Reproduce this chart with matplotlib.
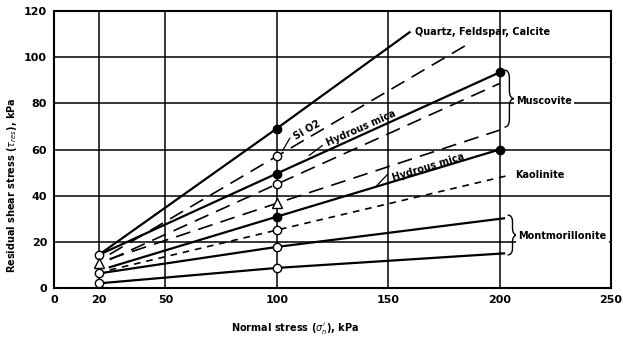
import matplotlib
matplotlib.use("Agg")
import matplotlib.pyplot as plt
from matplotlib.path import Path
from matplotlib.patches import PathPatch

# residual shear stress vs normal stress (kPa)
quartz_x = [20, 100, 159.6]
quartz_y = [14.3, 69.1, 110.8]
sio2_x = [25, 100, 185]
sio2_y = [14.6, 57.1, 105.2]
musc_solid_x = [20, 100, 200]
musc_solid_y = [14.3, 49.6, 93.4]
musc_dash1_x = [25, 100, 200]
musc_dash1_y = [12.3, 45.0, 88.6]
musc_dash2_x = [25, 100, 200]
musc_dash2_y = [12.6, 36.7, 68.4]
hmica_x = [25, 100, 200]
hmica_y = [9.0, 30.9, 60.0]
kaol_x = [25, 100, 205]
kaol_y = [7.8, 25.1, 49.0]
mont1_x = [20, 100, 202]
mont1_y = [6.3, 17.8, 30.2]
mont2_x = [20, 100, 202]
mont2_y = [2.0, 8.7, 15.0]

# test points
open_x = [20, 20, 20, 100, 100, 100, 100, 100]
open_y = [14.3, 6.3, 2.0, 57.1, 45.0, 25.1, 17.8, 8.7]
filled_x = [100, 100, 100, 200, 200]
filled_y = [69.1, 49.6, 30.9, 93.4, 60.0]
tri_x = [20, 100]
tri_y = [10.7, 36.7]

xticks = [0, 20, 50, 100, 150, 200, 250]
yticks = [0, 20, 40, 60, 80, 100, 120]

FONT = dict(fontsize=7, fontweight="bold", color="black")


def brace(ax, x, y0, y1, w, d):
    """right-pointing curly brace between y0 and y1"""
    ym = (y0 + y1) / 2.0
    xm = x + w / 2.0
    verts = [(x, y1), (xm, y1), (xm, y1 - d),
             (xm, ym + d),
             (xm, ym), (x + w, ym),
             (xm, ym), (xm, ym - d),
             (xm, y0 + d),
             (xm, y0), (x, y0)]
    codes = [Path.MOVETO, Path.CURVE3, Path.CURVE3,
             Path.LINETO,
             Path.CURVE3, Path.CURVE3,
             Path.CURVE3, Path.CURVE3,
             Path.LINETO,
             Path.CURVE3, Path.CURVE3]
    ax.add_patch(PathPatch(Path(verts, codes), fill=False, lw=1.0,
                           edgecolor="black", zorder=6))


fig = plt.figure(figsize=(6.23, 3.41), dpi=100)
ax = fig.add_axes([0.0867, 0.1554, 0.894, 0.8123])
ax.set_xlim(0, 250)
ax.set_ylim(0, 120)

for s in ax.spines.values():
    s.set_linewidth(1.5)

ax.set_xticks(xticks)
ax.set_yticks(yticks)
ax.set_xticklabels([str(v) for v in xticks], fontsize=8, fontweight="bold")
ax.set_yticklabels([str(v) for v in yticks], fontsize=8, fontweight="bold")
ax.tick_params(length=0, pad=5)
ax.grid(True, color="black", lw=1.1)
ax.set_axisbelow(True)

solid = dict(color="black", lw=1.6, zorder=3)
ldash = dict(color="black", lw=1.2, ls=(0, (9, 5)), zorder=3)
sdash = dict(color="black", lw=1.2, ls=(0, (4, 3.5)), zorder=3)

ax.plot(quartz_x, quartz_y, **solid)
ax.plot(sio2_x, sio2_y, **ldash)
ax.plot(musc_solid_x, musc_solid_y, **solid)
ax.plot(musc_dash1_x, musc_dash1_y, **ldash)
ax.plot(musc_dash2_x, musc_dash2_y, **ldash)
ax.plot(hmica_x, hmica_y, **solid)
ax.plot(kaol_x, kaol_y, **sdash)
ax.plot(mont1_x, mont1_y, **solid)
ax.plot(mont2_x, mont2_y, **solid)

ax.plot(open_x, open_y, "o", ms=6, mfc="white", mec="black", mew=1.0, zorder=5)
ax.plot(filled_x, filled_y, "o", ms=6, mfc="black", mec="black", zorder=5)
ax.plot(tri_x, tri_y, "^", ms=6.5, mfc="white", mec="black", mew=1.0, zorder=5)

# labels
ax.text(162, 110.8, "Quartz, Feldspar, Calcite", ha="left", va="center", **FONT)
ax.text(113.5, 68.5, "Si O2", ha="center", va="center", rotation=30,
        rotation_mode="anchor", **FONT)
ax.annotate("", xy=(102, 58.5), xytext=(106.5, 66),
            arrowprops=dict(arrowstyle="-", lw=0.9, color="black"))
ax.text(138, 69.3, "Hydrous mica", ha="center", va="center", rotation=24,
        rotation_mode="anchor", **FONT)
ax.annotate("", xy=(113.5, 56.7), xytext=(121.5, 62.5),
            arrowprops=dict(arrowstyle="-", lw=0.9, color="black"))
ax.text(168, 52.3, "Hydrous mica", ha="center", va="center", rotation=17,
        rotation_mode="anchor", **FONT)
ax.annotate("", xy=(144, 43.5), xytext=(150.5, 50),
            arrowprops=dict(arrowstyle="-", lw=0.9, color="black"))

box = dict(facecolor="white", edgecolor="none", pad=1.5)
brace(ax, 202.2, 69.7, 94.4, 4.4, 3.5)
ax.text(207.5, 81.0, "Muscovite", ha="left", va="center", bbox=box, zorder=7, **FONT)
ax.text(207, 48.9, "Kaolinite", ha="left", va="center", **FONT)
brace(ax, 203.6, 14.3, 31.6, 4.4, 3.0)
ax.text(208.5, 22.6, "Montmorillonite", ha="left", va="center", bbox=box, zorder=7, **FONT)

fig.text(0.4735, 0.038, r"Normal stress ($\sigma_n'$), kPa", ha="center", va="center",
         **FONT)
fig.text(0.019, 0.4575, r"Residual shear stress ($\tau_{res}$), kPa", ha="center",
         va="center", rotation=90, **FONT)

fig.savefig("out.png", dpi=100, facecolor="white")
